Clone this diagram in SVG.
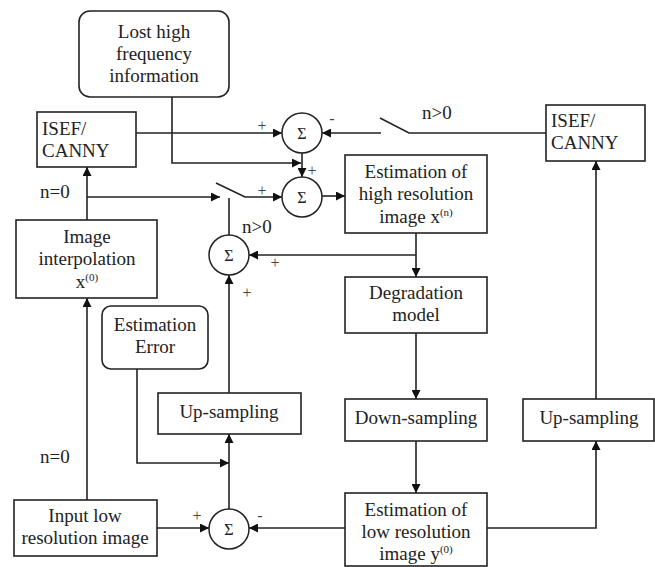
<svg xmlns="http://www.w3.org/2000/svg" width="655" height="567" viewBox="0 0 655 567">
<style>
.box{fill:#fff;stroke:#222;stroke-width:1.6}
.sum{fill:#fff;stroke:#222;stroke-width:1.5}
.ln{fill:none;stroke:#222;stroke-width:1.6}
.t{font-family:"Liberation Serif","Times New Roman",serif;font-size:19px;fill:#222}
.c{text-anchor:middle}
.s{font-family:"Liberation Serif","Times New Roman",serif;font-size:16px;fill:#222;text-anchor:middle}
.p{font-family:"Liberation Serif","Times New Roman",serif;font-size:16px;fill:#444;text-anchor:middle}
.sup{font-size:11px}
</style>
<defs>
<marker id="ah" viewBox="0 0 10 10" refX="10" refY="5" markerWidth="10" markerHeight="9" markerUnits="userSpaceOnUse" orient="auto">
<path d="M0,0 L10,5 L0,10 z" fill="#111"/>
</marker>
</defs>

<g id="connectors">
<path class="ln" d="M136,133 H282" marker-end="url(#ah)"/>
<path class="ln" d="M172,97 V163 H301" marker-end="url(#ah)"/>
<path class="ln" d="M302,153 V177" marker-end="url(#ah)"/>
<path class="ln" d="M546,133 H409 L380,118"/>
<path class="ln" d="M381,133 H322" marker-end="url(#ah)"/>
<path class="ln" d="M87,220 V167" marker-end="url(#ah)"/>
<path class="ln" d="M87,197 H220" marker-end="url(#ah)"/>
<path class="ln" d="M216,183 L245,197 H282" marker-end="url(#ah)"/>
<path class="ln" d="M229,198 V235"/>
<path class="ln" d="M322,196 H345" marker-end="url(#ah)"/>
<path class="ln" d="M416,233 V277" marker-end="url(#ah)"/>
<path class="ln" d="M416,255 H249" marker-end="url(#ah)"/>
<path class="ln" d="M416,333 V399" marker-end="url(#ah)"/>
<path class="ln" d="M416,441 V493" marker-end="url(#ah)"/>
<path class="ln" d="M487,528 H596 V441" marker-end="url(#ah)"/>
<path class="ln" d="M596,399 V161" marker-end="url(#ah)"/>
<path class="ln" d="M345,528 H249" marker-end="url(#ah)"/>
<path class="ln" d="M157,528 H209" marker-end="url(#ah)"/>
<path class="ln" d="M229,509 V434" marker-end="url(#ah)"/>
<path class="ln" d="M137,369 V463 H229" marker-end="url(#ah)"/>
<path class="ln" d="M229,393 V275" marker-end="url(#ah)"/>
<path class="ln" d="M87,500 V298" marker-end="url(#ah)"/>
</g>

<g id="labels">
<text class="p" x="262" y="131">+</text>
<text class="p" x="332" y="124">-</text>
<text class="p" x="312" y="176">+</text>
<text class="p" x="262" y="196">+</text>
<text class="p" x="275" y="268">+</text>
<text class="p" x="247" y="298">+</text>
<text class="p" x="197" y="521">+</text>
<text class="p" x="260" y="521">-</text>
<text class="t" x="422" y="119">n&gt;0</text>
<text class="t" x="40" y="198">n=0</text>
<text class="t" x="242" y="233">n&gt;0</text>
<text class="t" x="40" y="463">n=0</text>
</g>

<g id="lost-high-frequency">
<rect class="box" x="79" y="11" width="150" height="86" rx="11"/>
<text class="t c" x="154" y="38">Lost high</text>
<text class="t c" x="154" y="60">frequency</text>
<text class="t c" x="154" y="82">information</text>
</g>

<g id="isef-canny-left">
<rect class="box" x="37" y="112" width="99" height="55"/>
<text class="t" x="42" y="135">ISEF/</text>
<text class="t" x="42" y="157">CANNY</text>
</g>

<g id="isef-canny-right">
<rect class="box" x="546" y="105" width="99" height="56"/>
<text class="t" x="551" y="127">ISEF/</text>
<text class="t" x="551" y="149">CANNY</text>
</g>

<g id="sum1">
<circle class="sum" cx="302" cy="133" r="20"/>
<text class="s" x="302" y="139">Σ</text>
</g>
<g id="sum2">
<circle class="sum" cx="302" cy="197" r="20"/>
<text class="s" x="302" y="203">Σ</text>
</g>
<g id="sum3">
<circle class="sum" cx="229" cy="255" r="20"/>
<text class="s" x="229" y="261">Σ</text>
</g>
<g id="sum4">
<circle class="sum" cx="229" cy="529" r="20"/>
<text class="s" x="229" y="535">Σ</text>
</g>

<g id="estimation-high">
<rect class="box" x="345" y="155" width="142" height="78"/>
<text class="t c" x="416" y="178">Estimation of</text>
<text class="t c" x="416" y="200">high resolution</text>
<text class="t c" x="416" y="223">image x<tspan class="sup" dy="-7">(n)</tspan></text>
</g>

<g id="degradation">
<rect class="box" x="345" y="277" width="142" height="56"/>
<text class="t c" x="416" y="299">Degradation</text>
<text class="t c" x="416" y="321">model</text>
</g>

<g id="down-sampling">
<rect class="box" x="345" y="399" width="142" height="42"/>
<text class="t c" x="416" y="424">Down-sampling</text>
</g>

<g id="estimation-low">
<rect class="box" x="345" y="493" width="142" height="73"/>
<text class="t c" x="416" y="516">Estimation of</text>
<text class="t c" x="416" y="538">low resolution</text>
<text class="t c" x="416" y="560">image y<tspan class="sup" dy="-7">(0)</tspan></text>
</g>

<g id="up-sampling-right">
<rect class="box" x="523" y="399" width="131" height="42"/>
<text class="t c" x="589" y="424">Up-sampling</text>
</g>

<g id="image-interpolation">
<rect class="box" x="16" y="220" width="141" height="78"/>
<text class="t c" x="87" y="243">Image</text>
<text class="t c" x="87" y="265">interpolation</text>
<text class="t c" x="87" y="288">x<tspan class="sup" dy="-7">(0)</tspan></text>
</g>

<g id="estimation-error">
<rect class="box" x="102" y="306" width="106" height="63" rx="9"/>
<text class="t c" x="155" y="331">Estimation</text>
<text class="t c" x="155" y="353">Error</text>
</g>

<g id="up-sampling-left">
<rect class="box" x="158" y="393" width="143" height="41"/>
<text class="t c" x="229" y="418">Up-sampling</text>
</g>

<g id="input-low">
<rect class="box" x="14" y="500" width="143" height="56"/>
<text class="t c" x="85" y="522">Input low</text>
<text class="t c" x="85" y="544">resolution image</text>
</g>
</svg>
